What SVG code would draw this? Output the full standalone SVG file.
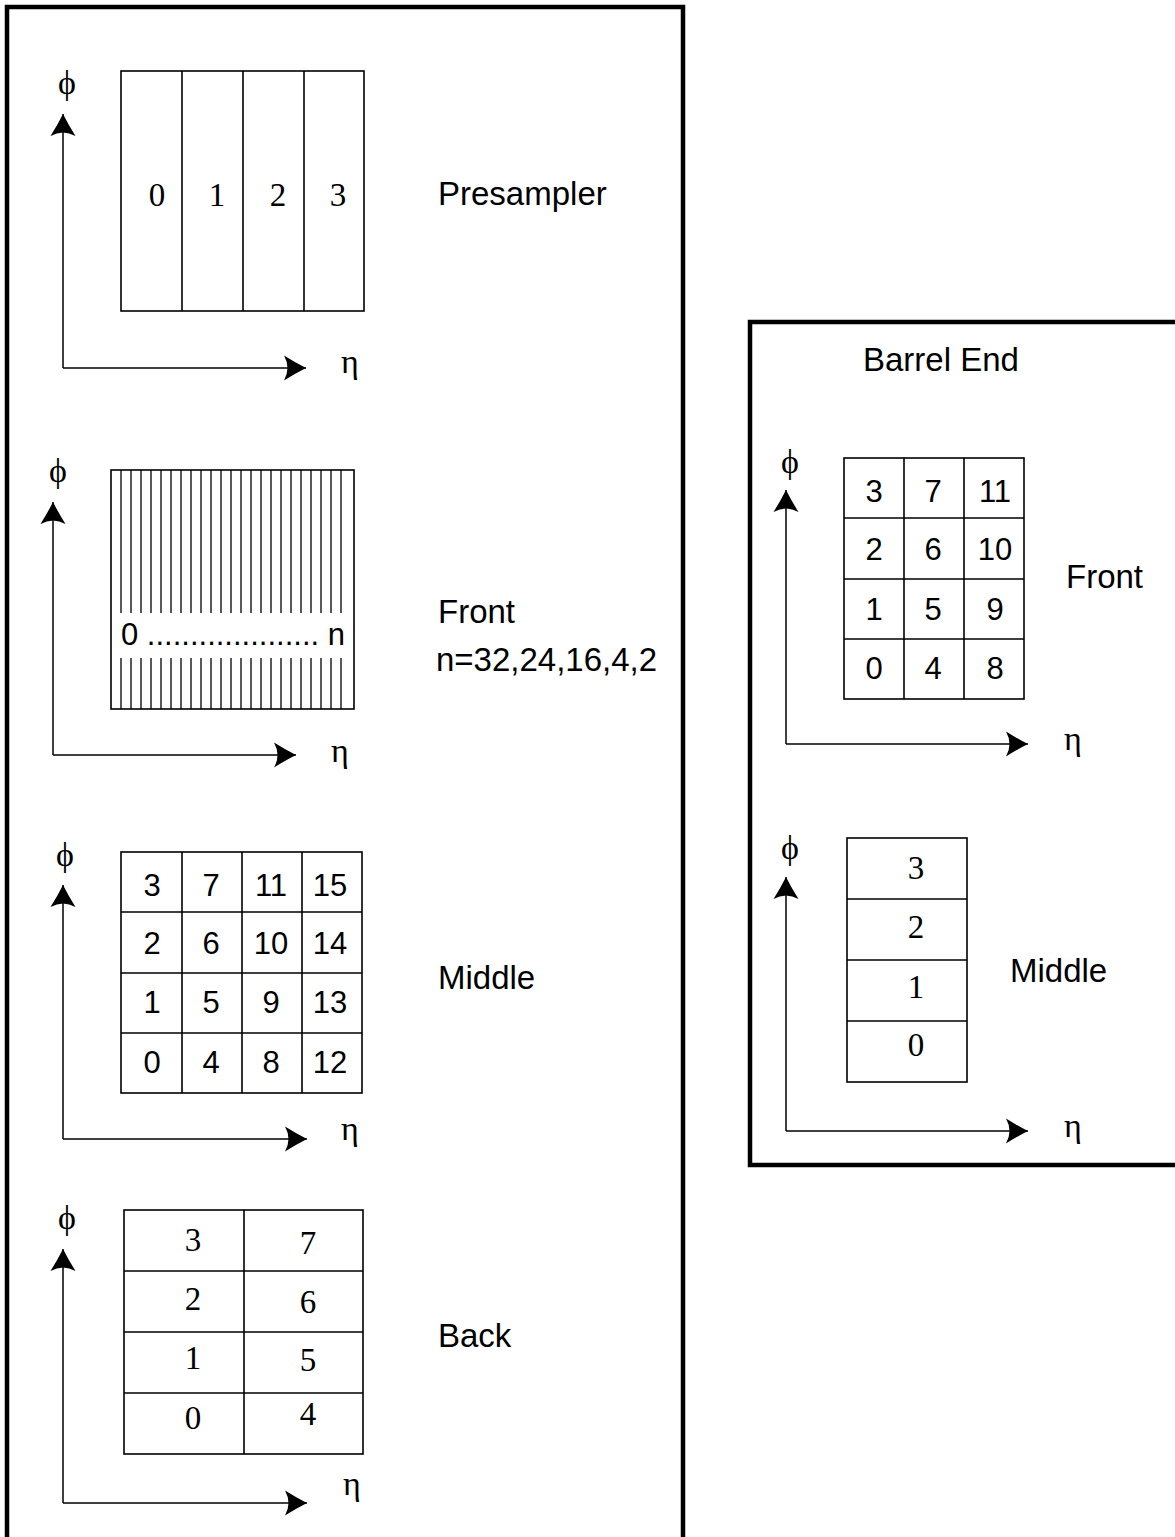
<svg xmlns="http://www.w3.org/2000/svg" width="1175" height="1537" viewBox="0 0 1175 1537">
<style>
.frame{fill:none;stroke:#000;stroke-width:4.5}
.cell{fill:none;stroke:#000;stroke-width:1.6}
.strip{stroke:#000;stroke-width:1.3}
.axis{fill:none;stroke:#000;stroke-width:1.5}
.serif{font-family:"Liberation Serif","Times New Roman",serif;font-size:33px;fill:#000}
.sym{font-family:"Liberation Serif","Times New Roman",serif;font-size:34px;fill:#000;text-anchor:middle}
.sans{font-family:"Liberation Sans",Arial,sans-serif;font-size:31px;fill:#000}
.lbl{font-size:33px}
.mid{text-anchor:middle}
</style>
<defs>
<marker id="ah" markerUnits="userSpaceOnUse" markerWidth="24" markerHeight="28" viewBox="-23 -14 24 28" refX="0" refY="0" orient="auto">
<path d="M0,0 Q-10,-5 -22,-12.5 Q-15,0 -22,12.5 Q-10,5 0,0 Z" fill="#000"/>
</marker>
</defs>
<rect class="frame" x="7" y="7" width="676" height="1545"/>
<rect class="frame" x="750" y="322" width="440" height="843"/>

<g id="connectors">
<line class="axis" x1="63" y1="368" x2="63" y2="114" marker-end="url(#ah)"/>
<line class="axis" x1="63" y1="368" x2="306" y2="368" marker-end="url(#ah)"/>
<line class="axis" x1="53" y1="755" x2="53" y2="502" marker-end="url(#ah)"/>
<line class="axis" x1="53" y1="755" x2="296" y2="755" marker-end="url(#ah)"/>
<line class="axis" x1="63" y1="1139" x2="63" y2="885" marker-end="url(#ah)"/>
<line class="axis" x1="63" y1="1139" x2="307" y2="1139" marker-end="url(#ah)"/>
<line class="axis" x1="63" y1="1503" x2="63" y2="1249" marker-end="url(#ah)"/>
<line class="axis" x1="63" y1="1503" x2="307" y2="1503" marker-end="url(#ah)"/>
<line class="axis" x1="786" y1="744" x2="786" y2="490" marker-end="url(#ah)"/>
<line class="axis" x1="786" y1="744" x2="1028" y2="744" marker-end="url(#ah)"/>
<line class="axis" x1="786" y1="1131" x2="786" y2="877" marker-end="url(#ah)"/>
<line class="axis" x1="786" y1="1131" x2="1028" y2="1131" marker-end="url(#ah)"/>
</g>

<g id="presampler">
<rect class="cell" x="121" y="71" width="243" height="240"/>
<line class="cell" x1="182" y1="71" x2="182" y2="311" stroke-width="2"/>
<line class="cell" x1="243" y1="71" x2="243" y2="311" stroke-width="2"/>
<line class="cell" x1="304" y1="71" x2="304" y2="311" stroke-width="2"/>
<text class="serif mid" x="157" y="206">0</text>
<text class="serif mid" x="217" y="206">1</text>
<text class="serif mid" x="278" y="206">2</text>
<text class="serif mid" x="338" y="206">3</text>
<text class="sym" x="67" y="94">ϕ</text>
<text class="sym" x="350" y="373">η</text>
<text class="sans lbl" x="438" y="205">Presampler</text>
</g>

<g id="front">
<rect class="cell" x="111" y="470" width="243" height="239"/>
<g class="strip">
<path d="M121,470V613M131,470V613M141,470V613M151,470V613M161,470V613M171,470V613M181,470V613M191,470V613M201,470V613M211,470V613M221,470V613M231,470V613M241,470V613M251,470V613M261,470V613M271,470V613M281,470V613M291,470V613M301,470V613M311,470V613M321,470V613M331,470V613M341,470V613"/>
<path d="M121,658V709M131,658V709M141,658V709M151,658V709M161,658V709M171,658V709M181,658V709M191,658V709M201,658V709M211,658V709M221,658V709M231,658V709M241,658V709M251,658V709M261,658V709M271,658V709M281,658V709M291,658V709M301,658V709M311,658V709M321,658V709M331,658V709M341,658V709"/>
</g>
<text class="sans" x="121" y="645">0 .................... n</text>
<text class="sym" x="58" y="482">ϕ</text>
<text class="sym" x="340" y="762">η</text>
<text class="sans lbl" x="438" y="623">Front</text>
<text class="sans lbl" x="436" y="671">n=32,24,16,4,2</text>
</g>

<g id="middle">
<rect class="cell" x="121" y="852" width="241" height="241"/>
<path class="cell" d="M182,852V1093M242,852V1093M302,852V1093M121,912H362M121,973H362M121,1033H362"/>
<g class="sans mid">
<text x="152" y="896">3</text><text x="211" y="896">7</text><text x="271" y="896">11</text><text x="330" y="896">15</text>
<text x="152" y="954">2</text><text x="211" y="954">6</text><text x="271" y="954">10</text><text x="330" y="954">14</text>
<text x="152" y="1013">1</text><text x="211" y="1013">5</text><text x="271" y="1013">9</text><text x="330" y="1013">13</text>
<text x="152" y="1073">0</text><text x="211" y="1073">4</text><text x="271" y="1073">8</text><text x="330" y="1073">12</text>
</g>
<text class="sym" x="65" y="866">ϕ</text>
<text class="sym" x="350" y="1140">η</text>
<text class="sans lbl" x="438" y="989">Middle</text>
</g>

<g id="back">
<rect class="cell" x="124" y="1210" width="239" height="244"/>
<path class="cell" d="M244,1210V1454M124,1271H363M124,1332H363M124,1393H363" stroke-width="2"/>
<g class="serif mid">
<text x="193" y="1251">3</text><text x="308" y="1254">7</text>
<text x="193" y="1310">2</text><text x="308" y="1313">6</text>
<text x="193" y="1369">1</text><text x="308" y="1371">5</text>
<text x="193" y="1429">0</text><text x="308" y="1425">4</text>
</g>
<text class="sym" x="67" y="1229">ϕ</text>
<text class="sym" x="352" y="1495">η</text>
<text class="sans lbl" x="438" y="1347">Back</text>
</g>

<g id="barrel-end">
<text class="sans lbl" x="863" y="371">Barrel End</text>
</g>

<g id="be-front">
<rect class="cell" x="844" y="458" width="180" height="241"/>
<path class="cell" d="M904,458V699M964,458V699M844,518H1024M844,579H1024M844,639H1024"/>
<g class="sans mid">
<text x="874" y="502">3</text><text x="933" y="502">7</text><text x="995" y="502">11</text>
<text x="874" y="560">2</text><text x="933" y="560">6</text><text x="995" y="560">10</text>
<text x="874" y="620">1</text><text x="933" y="620">5</text><text x="995" y="620">9</text>
<text x="874" y="679">0</text><text x="933" y="679">4</text><text x="995" y="679">8</text>
</g>
<text class="sym" x="790" y="473">ϕ</text>
<text class="sym" x="1073" y="750">η</text>
<text class="sans lbl" x="1066" y="588">Front</text>
</g>

<g id="be-middle">
<rect class="cell" x="847" y="838" width="120" height="244"/>
<path class="cell" d="M847,899H967M847,960H967M847,1021H967"/>
<g class="serif mid">
<text x="916" y="879">3</text>
<text x="916" y="938">2</text>
<text x="916" y="998">1</text>
<text x="916" y="1056">0</text>
</g>
<text class="sym" x="790" y="859">ϕ</text>
<text class="sym" x="1073" y="1137">η</text>
<text class="sans lbl" x="1010" y="982">Middle</text>
</g>
</svg>
